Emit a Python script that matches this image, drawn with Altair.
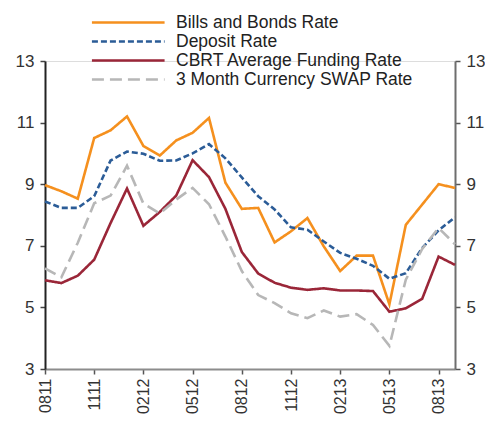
import altair as alt
import pandas as pd

months = ["0811", "0911", "1011", "1111", "1211", "0112", "0212", "0312", "0412",
          "0512", "0612", "0712", "0812", "0912", "1012", "1112", "1212", "0113",
          "0213", "0313", "0413", "0513", "0613", "0713", "0813", "0913"]
tick_labels = ["0811", "1111", "0212", "0512", "0812", "1112", "0213", "0513", "0813"]

series_names = ["Bills and Bonds Rate", "Deposit Rate",
                "CBRT Average Funding Rate", "3 Month Currency SWAP Rate"]

bills = [8.97, 8.77, 8.53, 10.5, 10.75, 11.2, 10.24, 9.93, 10.42, 10.67, 11.15, 9.05, 8.2,
         8.23, 7.11, 7.47, 7.9, 6.98, 6.18, 6.68, 6.68, 5.1, 7.68, 8.34, 9.0, 8.88]
deposit = [8.44, 8.23, 8.23, 8.61, 9.77, 10.06, 9.99, 9.76, 9.77, 10.0, 10.3, 9.84, 9.22,
           8.61, 8.18, 7.6, 7.52, 7.14, 6.77, 6.58, 6.35, 5.93, 6.11, 6.93, 7.5, 7.93]
cbrt = [5.88, 5.79, 6.03, 6.55, 7.74, 8.86, 7.65, 8.1, 8.63, 9.78, 9.23, 8.2, 6.8,
        6.1, 5.8, 5.64, 5.57, 5.62, 5.55, 5.55, 5.53, 4.86, 4.97, 5.28, 6.65, 6.38]
swap = [6.27, 5.98, 7.1, 8.38, 8.63, 9.6, 8.37, 8.05, 8.5, 8.88, 8.35, 7.3, 6.18,
        5.4, 5.14, 4.81, 4.65, 4.9, 4.7, 4.78, 4.43, 3.75, 5.9, 6.9, 7.58, 7.05]

colors = ["#F5901E", "#2B5C97", "#9A2638", "#B7B7B7"]
dashes = [[1, 0], [6, 3], [1, 0], [12, 6]]
widths = [2.6, 2.6, 2.6, 4.6]

rows = []
for name, vals in zip(series_names, [bills, deposit, cbrt, swap]):
    for m, v in zip(months, vals):
        rows.append({"month": m, "value": v, "series": name})
df = pd.DataFrame(rows)

FONT = "Liberation Sans"

x_enc = alt.X("month:O", sort=months,
              scale=alt.Scale(type="point", padding=0, domain=months),
              axis=alt.Axis(values=tick_labels, labelAngle=270, title=None,
                            labelFontSize=16, labelColor="#333333", labelFont=FONT,
                            domainColor="#8c8c8c", domainWidth=2, tickColor="#555555",
                            tickSize=5, tickWidth=1.5, labelPadding=4, grid=False))

y_scale = alt.Scale(domain=[3, 13], nice=False, zero=False)

legend = alt.Legend(title=None, orient="none", legendX=104, legendY=-49,
                    symbolType="M-7.44,0H0.56", symbolSize=330,
                    labelFontSize=17.5, labelFont=FONT,
                    labelColor="#222222", labelOffset=6,
                    labelLimit=0, rowPadding=0)

lines = alt.Chart(df).mark_line(strokeJoin="miter").encode(
    x=x_enc,
    y=alt.Y("value:Q", scale=y_scale,
            axis=alt.Axis(values=[3, 5, 7, 9, 11, 13], title=None, grid=False,
                          labelFontSize=17, labelColor="#333333", labelFont=FONT,
                          domainColor="#222222", domainWidth=2, tickColor="#444444",
                          tickSize=5, tickWidth=1.5, labelPadding=6)),
    color=alt.Color("series:N", sort=series_names,
                    scale=alt.Scale(domain=series_names, range=colors),
                    legend=legend),
    strokeDash=alt.StrokeDash("series:N", sort=series_names,
                              scale=alt.Scale(domain=series_names, range=dashes),
                              legend=legend),
    strokeWidth=alt.StrokeWidth("series:N", sort=series_names,
                                scale=alt.Scale(domain=series_names, range=widths),
                                legend=legend),
    detail="series:N",
)

right = alt.Chart(df).mark_point(opacity=0).encode(
    x=x_enc,
    y=alt.Y("value:Q", scale=y_scale,
            axis=alt.Axis(orient="right", values=[3, 5, 7, 9, 11, 13], title=None,
                          grid=False, labelFontSize=17, labelColor="#333333",
                          labelFont=FONT, domainColor="#6e6e6e", domainWidth=2,
                          tickColor="#555555", tickSize=5, tickWidth=1.5,
                          labelPadding=6)),
)

chart = alt.layer(lines, right).resolve_scale(y="independent").properties(
    width=410, height=308,
    autosize=alt.AutoSizeParams(type="none"),
    padding={"left": 37, "top": 53, "right": 30, "bottom": 46},
).configure_view(stroke=None).configure(background="white")

chart.save("out.html", embed_options={"renderer": "svg", "actions": False})
